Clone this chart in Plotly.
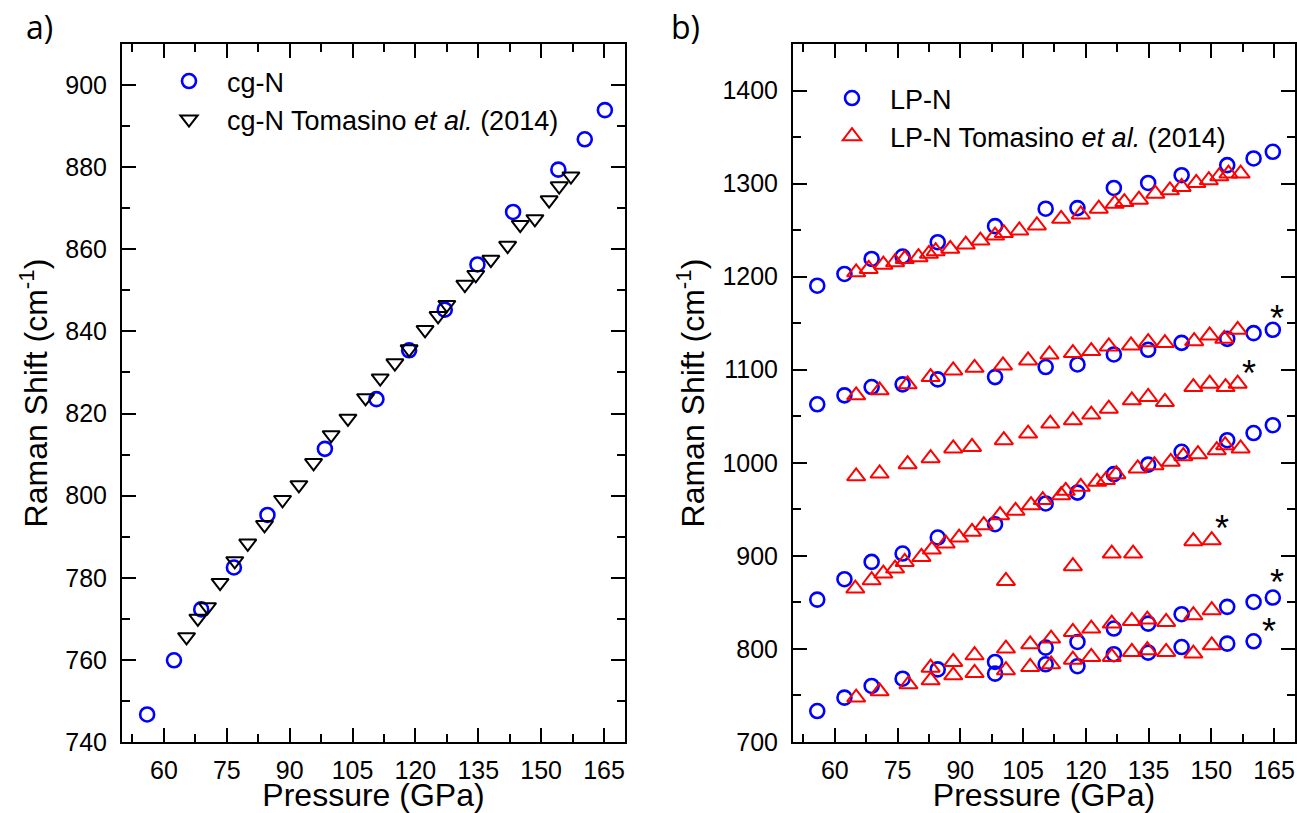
import plotly.graph_objects as go

W, H = 1297, 813

# ---------------- Panel a: cg-N ----------------
P_cg = [56.0, 62.4, 68.9, 76.7, 84.7, 98.4, 110.7, 118.5, 127.0, 134.8, 143.3, 154.1, 160.4, 165.2]
shift_cg = [746.7, 759.9, 772.3, 782.5, 795.3, 811.4, 823.5, 835.4, 845.3, 856.3, 869.1, 879.4, 886.8, 893.9]

P_cg_tom = [65.4, 68.1, 70.4, 73.4, 76.9, 80.0, 84.0, 88.3, 92.2, 95.7, 99.9, 103.9, 108.1, 111.6,
            115.1, 118.5, 122.3, 125.4, 127.5, 131.8, 134.4, 138.0, 142.0, 145.0, 148.5, 151.9,
            154.3, 157.1]
shift_cg_tom = [765.6, 770.1, 772.9, 778.8, 784.1, 788.4, 792.9, 799.0, 802.6, 808.0, 814.8, 818.8,
                823.8, 828.6, 832.3, 835.7, 840.4, 843.8, 846.5, 851.4, 853.8, 857.5, 860.9, 866.0,
                867.4, 872.0, 875.4, 877.8]

# ---------------- Panel b: LP-N (this work) ----------------
P_lp = [55.8, 62.3, 68.8, 76.2, 84.6, 98.3, 110.4, 118.0, 126.7, 134.9, 142.9, 153.8, 160.1, 164.7]
lp_mode1 = [1190.3, 1202.9, 1219.0, 1221.6, 1237.0, 1254.3, 1273.0, 1273.7, 1295.3, 1300.7, 1309.0, 1319.8, 1327.0, 1334.2]
lp_mode2 = [1062.9, 1072.5, 1081.4, 1084.3, 1089.6, 1092.1, 1102.9, 1105.7, 1116.4, 1121.4, 1128.9, 1133.2, 1139.3, 1142.9]
lp_mode3 = [853.0, 874.9, 893.5, 902.5, 919.7, 934.0, 956.3, 968.0, 987.8, 998.0, 1011.8, 1024.3, 1032.0, 1040.4]
lp_mode4 = [733.3, 747.7, 760.2, 768.0, 778.0, 786.0, 801.4, 807.5, 821.9, 827.2, 837.3, 845.2, 850.5, 855.2]
P_lp5 = [98.3, 110.4, 118.0, 126.7, 134.9, 142.9, 153.8, 160.1]
lp_mode5 = [773.5, 783.5, 781.4, 794.3, 796.0, 802.0, 805.7, 808.2]

# ---------------- Panel b: LP-N Tomasino et al. (2014) ----------------
P_t1 = [65.1, 68.1, 71.6, 74.4, 76.7, 80.0, 82.5, 84.1, 87.6, 91.3, 94.8, 98.3, 100.4, 104.1, 108.3,
        114.1, 118.8, 123.1, 126.9, 129.2, 132.7, 136.6, 140.1, 142.9, 146.4, 149.4, 151.9, 154.1, 157.0]
t_mode1 = [1204.7, 1208.3, 1212.9, 1215.5, 1219.1, 1220.9, 1224.5, 1227.3, 1229.9, 1234.5, 1238.8,
           1244.2, 1246.8, 1249.6, 1255.0, 1262.2, 1266.9, 1273.0, 1278.4, 1280.2, 1282.7, 1289.2,
           1292.8, 1296.4, 1300.7, 1303.6, 1307.9, 1310.8, 1310.8]
P_t2 = [65.1, 70.7, 77.4, 82.9, 88.3, 93.4, 100.2, 106.2, 111.3, 116.9, 121.3, 125.5, 130.8, 134.9,
        138.9, 145.9, 149.6, 153.1, 156.3]
t_mode2 = [1072.5, 1077.9, 1084.3, 1092.1, 1099.3, 1102.1, 1104.6, 1110.0, 1116.4, 1117.9, 1120.0,
           1125.0, 1126.1, 1129.6, 1128.6, 1130.7, 1136.8, 1133.2, 1142.9]
P_t3 = [65.1, 70.7, 77.4, 82.9, 88.3, 92.8, 100.4, 106.2, 111.5, 116.9, 121.3, 125.5, 131.0, 134.9,
        138.9, 145.7, 149.6, 153.4, 156.3]
t_mode3 = [985.5, 988.5, 998.5, 1005.0, 1015.4, 1017.1, 1024.3, 1031.4, 1042.1, 1045.7, 1051.8,
           1058.2, 1067.1, 1070.7, 1065.4, 1081.4, 1085.0, 1081.4, 1085.0]
P_t4 = [64.9, 68.8, 71.6, 74.4, 76.7, 80.7, 83.2, 86.5, 89.7, 92.8, 95.6, 99.5, 103.2, 106.9, 109.7,
        114.1, 115.2, 118.8, 122.7, 124.8, 127.3, 132.4, 136.4, 140.3, 143.3, 146.8, 151.3, 153.3, 157.0]
t_mode4 = [864.9, 873.8, 881.0, 886.4, 893.5, 898.9, 906.8, 913.3, 919.7, 925.8, 933.0, 943.7, 948.4,
           954.5, 959.9, 965.2, 969.9, 974.2, 979.6, 981.4, 987.8, 993.9, 997.5, 1001.0, 1007.1,
           1009.3, 1013.6, 1018.9, 1015.4]
P_t5 = [100.9, 116.9, 126.2, 131.3, 145.7, 150.1]
t_mode5 = [873.1, 888.9, 902.5, 902.5, 915.8, 916.8]
P_t6 = [82.9, 88.3, 93.4, 100.9, 106.7, 111.7, 116.9, 121.3, 126.2, 131.0, 134.7, 139.2, 145.7, 150.1]
t_mode6 = [779.9, 786.0, 793.2, 800.4, 805.0, 811.1, 818.3, 821.9, 827.2, 830.1, 831.5, 829.0, 836.2, 841.6]
P_t7 = [65.1, 70.7, 77.6, 82.9, 88.3, 93.4, 100.9, 106.7, 111.7, 116.9, 121.3, 126.2, 131.0, 134.7,
        139.2, 145.7, 150.1]
t_mode7 = [747.7, 754.5, 762.0, 766.3, 771.7, 774.2, 777.1, 780.6, 783.5, 788.5, 791.4, 791.4, 796.8,
           798.6, 796.8, 795.0, 803.9]

# asterisk marks (data coordinates of their visual centre)
star_P = [165.8, 158.9, 152.6, 165.8, 163.7]
star_shift = [1160, 1101, 935, 877, 824]

x_ticks = [60, 75, 90, 105, 120, 135, 150, 165]

FONT = "Liberation Sans, Arial, sans-serif"
BLUE = "#0000FF"
RED = "#FF0000"

def concat(*lists):
    out = []
    for l in lists:
        out += list(l)
    return out

fig = go.Figure()

fig.add_trace(go.Scatter(
    x=P_cg, y=shift_cg, mode="markers", name="cg-N",
    marker=dict(symbol="circle-open", size=14, color=BLUE, line=dict(width=2.6, color=BLUE)),
    xaxis="x", yaxis="y", legend="legend"))
fig.add_trace(go.Scatter(
    x=P_cg_tom, y=shift_cg_tom, mode="markers", name="cg-N Tomasino <i>et al.</i> (2014)",
    marker=dict(symbol="triangle-down-open", size=15, color="black", line=dict(width=2, color="black")),
    xaxis="x", yaxis="y", legend="legend"))

fig.add_trace(go.Scatter(
    x=concat(P_lp, P_lp, P_lp, P_lp, P_lp5),
    y=concat(lp_mode1, lp_mode2, lp_mode3, lp_mode4, lp_mode5),
    mode="markers", name="LP-N",
    marker=dict(symbol="circle-open", size=14, color=BLUE, line=dict(width=2.6, color=BLUE)),
    xaxis="x2", yaxis="y2", legend="legend2"))
fig.add_trace(go.Scatter(
    x=concat(P_t1, P_t2, P_t3, P_t4, P_t5, P_t6, P_t7),
    y=concat(t_mode1, t_mode2, t_mode3, t_mode4, t_mode5, t_mode6, t_mode7),
    mode="markers", name="LP-N Tomasino <i>et al.</i> (2014)",
    marker=dict(symbol="triangle-up-open", size=16, color=RED, line=dict(width=2, color=RED)),
    xaxis="x2", yaxis="y2", legend="legend2"))

ydom = [1 - 742 / H, 1 - 44 / H]

axis_common = dict(
    showline=True, linecolor="black", linewidth=2, mirror="allticks",
    ticks="inside", ticklen=14, tickwidth=2, tickcolor="black",
    showgrid=False, zeroline=False, automargin=False,
    tickfont=dict(family=FONT, size=25, color="black"),
)
minor_x = dict(ticks="inside", ticklen=8, tickwidth=2, tickcolor="black", dtick=7.5, tick0=52.5, showgrid=False)
title_font = dict(family=FONT, size=32, color="black")

fig.update_layout(
    template="none",
    width=W, height=H,
    margin=dict(l=0, r=0, t=0, b=0, pad=0, autoexpand=False),
    plot_bgcolor="white", paper_bgcolor="white",
    xaxis=dict(domain=[122 / W, 625 / W], range=[50, 170], tickvals=x_ticks, minor=minor_x,
               title=dict(text="Pressure (GPa)", font=title_font, standoff=6),
               ticklabelstandoff=5, anchor="y", **axis_common),
    yaxis=dict(domain=ydom, range=[740, 910], dtick=20, tick0=740,
               minor=dict(ticks="inside", ticklen=8, tickwidth=2, tickcolor="black", dtick=10, showgrid=False),
               title=dict(text="Raman Shift (cm<sup>-1</sup>)", font=title_font, standoff=8),
               ticklabelstandoff=8, anchor="x", **axis_common),
    xaxis2=dict(domain=[793 / W, 1295 / W], range=[50, 170], tickvals=x_ticks, minor=minor_x,
                title=dict(text="Pressure (GPa)", font=title_font, standoff=6),
                ticklabelstandoff=5, anchor="y2", **axis_common),
    yaxis2=dict(domain=ydom, range=[700, 1450], dtick=100, tick0=700,
                minor=dict(ticks="inside", ticklen=8, tickwidth=2, tickcolor="black", dtick=50, showgrid=False),
                title=dict(text="Raman Shift (cm<sup>-1</sup>)", font=title_font, standoff=8),
                ticklabelstandoff=8, anchor="x2", **axis_common),
    legend=dict(x=151 / W, y=1 - 57 / H, xanchor="left", yanchor="top", itemwidth=66,
                bgcolor="rgba(0,0,0,0)", borderwidth=0,
                font=dict(family=FONT, size=27, color="black"), tracegroupgap=0),
    legend2=dict(x=814 / W, y=1 - 74 / H, xanchor="left", yanchor="top", itemwidth=66,
                 bgcolor="rgba(0,0,0,0)", borderwidth=0,
                 font=dict(family=FONT, size=27, color="black"), tracegroupgap=0),
    showlegend=True,
)

annotations = [
    dict(text="a)", x=39 / W, y=1 - 27 / H, xref="paper", yref="paper", showarrow=False,
         xanchor="center", yanchor="middle",
         font=dict(family="Open Sans, Noto Sans, sans-serif", size=32, color="black")),
    dict(text="b)", x=686 / W, y=1 - 27 / H, xref="paper", yref="paper", showarrow=False,
         xanchor="center", yanchor="middle",
         font=dict(family="Open Sans, Noto Sans, sans-serif", size=32, color="black")),
]
for sx, sy in zip(star_P, star_shift):
    annotations.append(dict(text="*", x=sx, y=sy, xref="x2", yref="y2", showarrow=False,
                            xanchor="center", yanchor="middle",
                            yshift=-5, font=dict(family=FONT, size=36, color="black")))
fig.update_layout(annotations=annotations)

fig.write_html("out.html", config={"displayModeBar": False},
               post_script="document.body.style.margin='0';document.body.style.overflow='hidden';")
